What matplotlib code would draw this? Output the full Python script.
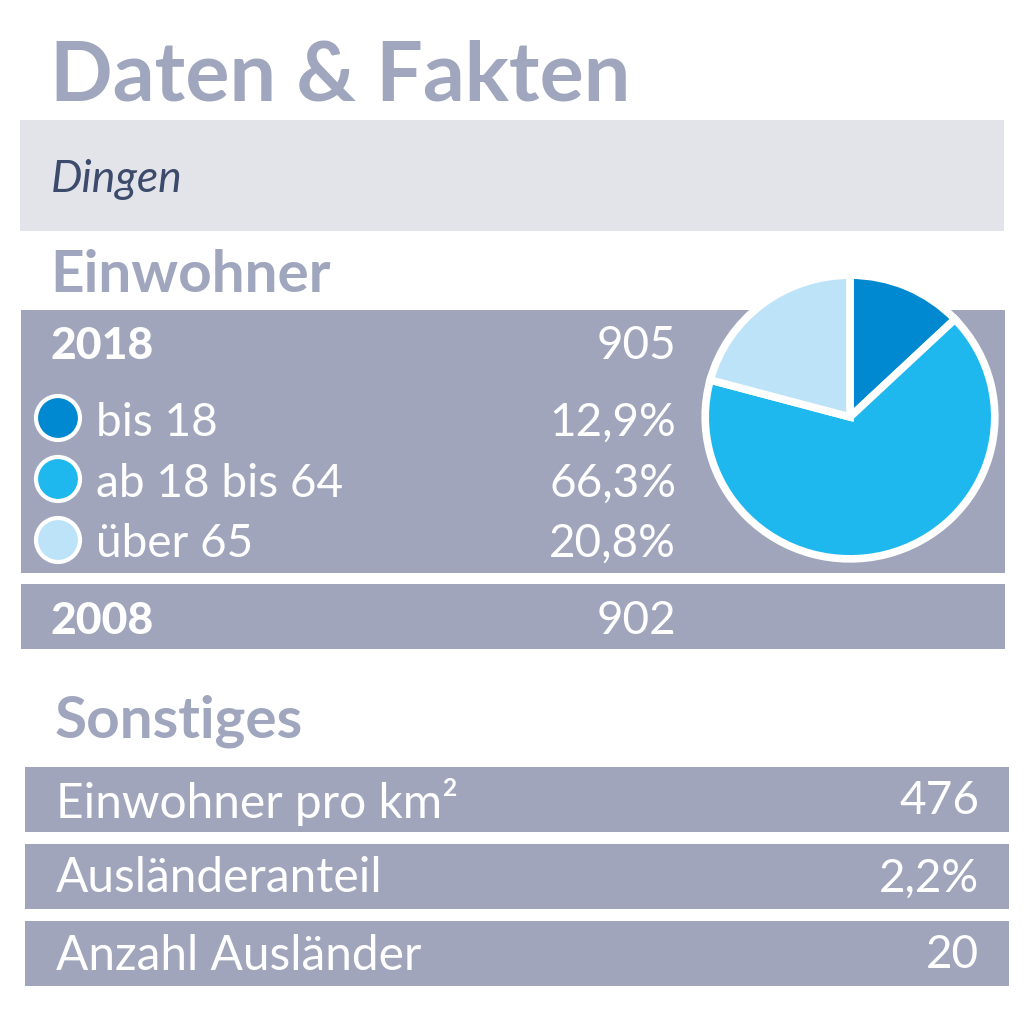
import matplotlib
matplotlib.use('Agg')
from matplotlib import pyplot as plt
from matplotlib.patches import Rectangle, Circle

# values
legend_labels = ['bis 18', 'ab 18 bis 64', 'über 65']
legend_values = ['12,9%', '66,3%', '20,8%']
pie_values = [12.9, 66.3, 20.8]
pie_colors = ['#0088d0', '#1fb8ee', '#bde3f9']
years = ['2018', '2008']
year_values = ['905', '902']
other_labels = ['Einwohner pro km²', 'Ausländeranteil', 'Anzahl Ausländer']
other_values = ['476', '2,2%', '20']

BAND = '#a0a5bc'
PALE = '#e2e4ea'
HEAD = '#a0a6bd'
FONT = 'Lato'

plt.rcParams['font.family'] = [FONT, 'DejaVu Sans']

W, H = 1024, 1017
fig = plt.figure(figsize=(W / 100, H / 100), dpi=100, facecolor='white')
ax = fig.add_axes([0, 0, 1, 1])
ax.set_xlim(0, W)
ax.set_ylim(H, 0)
ax.axis('off')


def band(x0, y0, x1, y1, color=BAND):
    ax.add_patch(Rectangle((x0, y0), x1 - x0, y1 - y0, fc=color, ec='none'))


def label(x, y, s, size, **kw):
    kw.setdefault('color', 'white')
    kw.setdefault('va', 'center')
    ax.text(x, y, s, fontsize=size, **kw)


label(50, 77, 'Daten & Fakten', 59.5, color=HEAD, weight='bold')
band(20, 120, 1004, 231, PALE)
label(51, 180, 'Dingen', 32, color='#3c4a6b', style='italic')

label(50, 276, 'Einwohner', 42, color=HEAD, weight='bold')
band(21, 310, 1005, 573)
band(21, 584, 1005, 649)

label(50, 346, years[0], 32, weight='black')
label(676, 346, year_values[0], 33, ha='right')
label(50, 621, years[1], 32, weight='black')
label(676, 621, year_values[1], 33, ha='right')

for y, ty, name, val, col in zip([418, 479, 540], [423, 484, 544], legend_labels, legend_values, pie_colors):
    ax.add_patch(Circle((58, y), 22, fc=col, ec='white', lw=3))
    label(96, ty, name, 33)
    label(676, ty, val, 33, ha='right')

# pie on its own overlay axes, first slice starts at 12 o'clock going clockwise
# reference pie is slightly wider than tall, so aspect is released below
pie_ax = fig.add_axes([701.5 / W, 1 - 562.5 / H, 297 / W, 291 / H])
pie_ax.pie(pie_values, colors=pie_colors, startangle=90, counterclock=False,
           radius=0.975, wedgeprops=dict(edgecolor='white', linewidth=5.5))
pie_ax.set_aspect('auto')
pie_ax.set_xlim(-1, 1)
pie_ax.set_ylim(-1, 1)

label(55, 721, 'Sonstiges', 42, color=HEAD, weight='bold')
for (y0, y1), name, val in zip([(767, 832), (844, 909), (921, 986)], other_labels, other_values):
    band(25, y0, 1009, y1)
    label(56, (y0 + y1) / 2 + 2, name, 34.5)
    label(979, (y0 + y1) / 2 + 2, val, 33, ha='right')

fig.savefig('out.png', dpi=100)
